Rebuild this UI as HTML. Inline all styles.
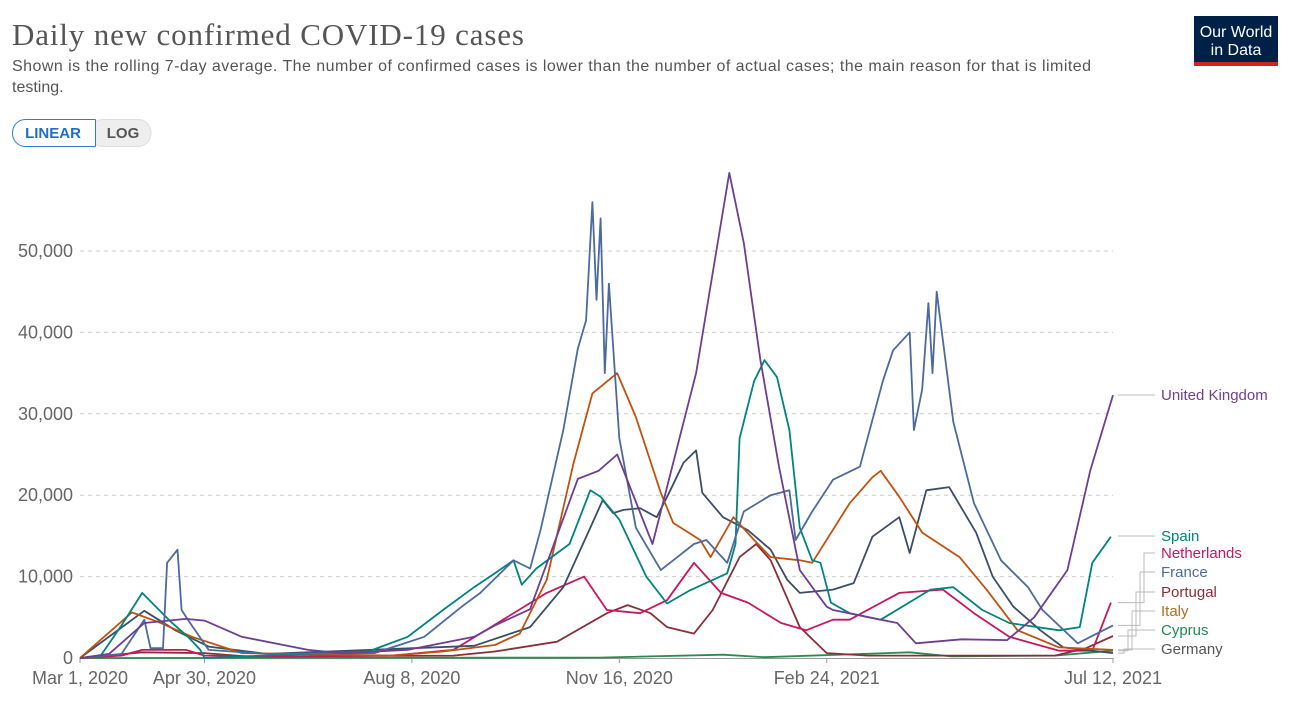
<!DOCTYPE html>
<html><head><meta charset="utf-8"><style>
html,body{margin:0;padding:0;background:#fff;width:1306px;height:707px;overflow:hidden}
svg{display:block}
</style></head><body>
<svg id="chart" width="1306" height="707" viewBox="0 0 1306 707" font-family="'Liberation Sans', sans-serif">
<text x="12" y="45" font-family="'Liberation Serif', serif" font-size="31" fill="#555" textLength="512">Daily new confirmed COVID-19 cases</text>
<text x="12" y="71" font-size="16" fill="#555" textLength="1079">Shown is the rolling 7-day average. The number of confirmed cases is lower than the number of actual cases; the main reason for that is limited</text>
<text x="12" y="92" font-size="16" fill="#555">testing.</text>
<g>
<rect x="90" y="119.5" width="61" height="27" rx="13" fill="#eee" stroke="#ddd"/>
<text x="123" y="138" font-size="15" font-weight="bold" fill="#555" text-anchor="middle">LOG</text>
<rect x="12.5" y="119.5" width="83" height="27" rx="13" fill="#fff" stroke="#2f7bd6"/>
<rect x="80" y="120" width="15" height="26" fill="#fff"/>
<line x1="95.5" y1="119.5" x2="95.5" y2="146.5" stroke="#2f7bd6"/>
<line x1="80" y1="119.5" x2="95.5" y2="119.5" stroke="#2f7bd6"/>
<line x1="80" y1="146.5" x2="95.5" y2="146.5" stroke="#2f7bd6"/>
<text x="53" y="138" font-size="15" font-weight="bold" fill="#1d6fc9" text-anchor="middle">LINEAR</text>
</g>
<g>
<rect x="1194" y="16" width="84" height="50" fill="#002147"/>
<rect x="1194" y="62" width="84" height="4" fill="#ce261e"/>
<text x="1236" y="37" font-size="16" fill="#fff" text-anchor="middle">Our World</text>
<text x="1236" y="55" font-size="16" fill="#fff" text-anchor="middle">in Data</text>
</g>
<g id="grid"></g><g id="lines"></g><g id="legend"></g>
</svg>
<script>
const yTicks=[0,10000,20000,30000,40000,50000];
const yTickLabels=["0","10,000","20,000","30,000","40,000","50,000"];
const xTickDays=[0,60,160,260,360,498];
const xTickLabels=["Mar 1, 2020","Apr 30, 2020","Aug 8, 2020","Nov 16, 2020","Feb 24, 2021","Jul 12, 2021"];
const seriesNames=["United Kingdom","Spain","Netherlands","France","Portugal","Italy","Cyprus","Germany"];
// values in thousands of cases, days since Mar 1 2020
const ukDays=[0,14,31,51,60,78,110,126,158,190,200,217,240,250,259,276,297,313,320,328,337,347,360,363,394,403,425,447,460,476,487,498];
const ukVals=[0,0.5,4.3,4.8,4.6,2.6,1.0,0.6,1.0,2.6,4.0,6.0,22,23,25,14,35,59.6,51,36.6,23.5,10.8,6.3,5.9,4.3,1.8,2.3,2.2,5.0,10.8,23,32.3];
const esDays=[0,10,20,30,44,52,58,60,100,139,158,175,190,200,209,213,220,236,246,251,260,273,283,294,312,316,318,325,330,336,342,347,353,357,362,371,386,410,421,435,448,472,482,488,497];
const esVals=[0,0.3,4,8,4.4,2.6,1,0,0.4,0.8,2.6,5.9,8.7,10.4,12,9,11,14,20.6,19.8,17,10,6.7,8.3,10.4,14,27,34,36.6,34.5,28,16,12,11.7,6.8,5.5,4.7,8.4,8.7,5.9,4.3,3.4,3.8,11.7,14.9];
const nlDays=[0,20,30,51,60,90,150,180,193,225,243,254,270,283,296,309,322,338,350,363,371,395,416,431,448,472,488,497];
const nlVals=[0,0.3,1,1,0.3,0.2,0.3,1,3,8,10,5.9,5.5,7.1,11.7,8,6.8,4.3,3.4,4.7,4.7,8,8.4,5.5,2.6,0.9,0.9,6.8];
const frDays=[0,20,31,34,40,42,47,49,52,62,90,142,166,184,193,209,217,222,233,240,244,247,249,251,253,255,260,268,280,296,302,312,320,333,342,345,353,363,376,387,392,400,402,406,409,411,413,421,431,444,457,464,481,498];
const frVals=[0,0.5,4.7,1.2,1.2,11.7,13.3,5.9,4.7,1,0.5,0.6,2.6,6.3,8,12,11,15.7,28,38,41.5,56,44,54,35,46,27,16,10.8,14,14.5,11.7,18,20,20.6,14.5,18,21.9,23.5,34,37.8,40,28,33,43.6,35,45,29,19,12,8.7,5.9,1.8,4];
const ptDays=[0,30,60,80,180,200,230,254,264,275,283,296,305,318,326,333,347,360,380,470,485,498];
const ptVals=[0,0.7,0.6,0.2,0.3,0.8,2,5.5,6.5,5.5,3.8,3,5.9,12.4,14,12,3.8,0.6,0.3,0.3,1.2,2.7];
const itDays=[0,25,38,54,78,150,175,200,212,225,238,247,259,268,280,286,299,304,315,325,333,347,353,371,382,386,395,406,424,437,452,472,498];
const itVals=[0,5.6,4.4,2.6,0.6,0.3,0.8,1.6,3,9.6,24,32.5,35,29.6,20.3,16.6,14.5,12.4,17.3,14.5,12.4,12,11.7,19,22.2,23,19.8,15.4,12.4,8.4,3.4,1.3,1.0];
const cyDays=[0,250,310,330,400,420,470,498];
const cyVals=[0,0.05,0.4,0.1,0.7,0.2,0.3,0.9];
const deDays=[0,31,46,62,90,190,217,233,246,252,257,262,270,278,284,291,297,300,310,322,333,341,347,363,373,382,395,400,408,419,432,440,450,463,474,498];
const deVals=[0,5.8,3.4,1.4,0.5,1.5,3.8,8.7,16,19.4,17.8,18.2,18.4,17.3,20.3,24,25.5,20.3,17.3,15.7,13.3,9.6,8,8.4,9.2,14.9,17.3,12.9,20.6,21,15.4,10,6.3,3.4,1.3,0.6];
const allDays=[ukDays,esDays,nlDays,frDays,ptDays,itDays,cyDays,deDays];
const allVals=[ukVals,esVals,nlVals,frVals,ptVals,itVals,cyVals,deVals];
const colors=["#6d3e91","#00847e","#c8175e","#4c6a9c","#883039","#c0520f","#2a8a50","#3c4e66"];
const labelColors=["#6d3e91","#00847e","#c8175e","#4c6a9c","#883039","#b86a1e","#1e8a55","#555"];
const labelY=[395,536,553,572,592,611,630,649];
const X0=80,X1=1113,Y0=658,PX_PER_10K=81.4,DMAX=498;
function xs(d){return X0+d*(X1-X0)/DMAX;}
function ys(v){return Y0-v*PX_PER_10K/10000;}
const NS="http://www.w3.org/2000/svg";
const grid=document.getElementById('grid'),lines=document.getElementById('lines'),legend=document.getElementById('legend');
function mk(tag,attrs,parent){const e=document.createElementNS(NS,tag);for(const k in attrs)e.setAttribute(k,attrs[k]);parent.appendChild(e);return e;}
yTicks.forEach((t,i)=>{
  if(t>0){const l=mk('line',{x1:X0,x2:X1,y1:ys(t),y2:ys(t),stroke:'#ccc','stroke-dasharray':'4,4'},grid);
  
  }
  const tx=mk('text',{x:73,y:ys(t)+6,'font-size':18,fill:'#666','text-anchor':'end'},grid);
  tx.textContent=yTickLabels[i];
  
  
});
const ax=mk('line',{x1:X0,x2:X1,y1:Y0+0.5,y2:Y0+0.5,stroke:'#999'},grid);


xTickDays.forEach((d,i)=>{
  const tk=mk('line',{x1:xs(d),x2:xs(d),y1:Y0,y2:Y0+5,stroke:'#999'},grid);
  
  
  const tx=mk('text',{x:xs(d),y:684,'font-size':18,fill:'#666','text-anchor':'middle'},grid);
  tx.textContent=xTickLabels[i];
  
  
});
const drawOrder=[6,4,2,7,5,1,3,0];
drawOrder.forEach(i=>{
  const pts=allDays[i].map((d,j)=>xs(d).toFixed(1)+','+ys(allVals[i][j]*1000).toFixed(1)).join(' ');
  const p=mk('polyline',{points:pts,fill:'none',stroke:colors[i],'stroke-width':1.8,'stroke-linejoin':'round'},lines);
  
  
});
seriesNames.forEach((n,i)=>{
  const v=allVals[i];
  const ey=ys(v[v.length-1]*1000);
  const ly=labelY[i];
  const pts=(i<=1)?`1118,${ly} 1155,${ly}`:`1118,${ey.toFixed(1)} ${1124+(7-i)*4},${ey.toFixed(1)} ${1124+(7-i)*4},${ly} 1155,${ly}`;
  const l=mk('polyline',{points:pts,fill:'none',stroke:'#bbb','stroke-width':1},legend);
  
  
  const t=mk('text',{x:1161,y:ly+5,'font-size':15,fill:labelColors[i]},legend);
  t.textContent=n;
  
  
});
</script>
</body></html>
